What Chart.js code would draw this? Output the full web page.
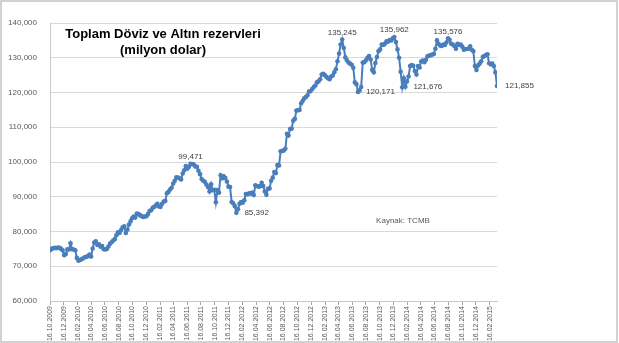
<!DOCTYPE html>
<html>
<head>
<meta charset="utf-8">
<script src="https://cdn.jsdelivr.net/npm/chart.js@4.4.0/dist/chart.umd.min.js"></script>
<style>
  html, body { margin: 0; padding: 0; background: #fff; }
  #wrap { width: 619px; height: 343px; }
</style>
</head>
<body>
<div id="wrap"><canvas id="rezerv" width="619" height="343"></canvas></div>
<script>
// haftalik seri, ilk hafta 16.10.2009 (milyon dolar)
const startDate = '16.10.2009'
const reserves = [
  74600, 75000, 75200, 75300, 75200, 75400, 75300, 75000, 74600, 73200,
  73500, 74900, 74800, 76600, 74900, 74800, 74600, 72400, 71600, 71800,
  72000, 72300, 72600, 72700, 72900, 73400, 72800, 75100, 76800, 77200,
  76100, 76300, 75600, 75800, 74900, 74800, 75000, 75700, 76500, 76900,
  77400, 77800, 78900, 79800, 79600, 80400, 81200, 81500, 79600, 80500,
  82000, 82900, 83800, 84300, 84000, 85200, 85000, 84700, 84400, 84200,
  84300, 84400, 85000, 85900, 86100, 86800, 87100, 87500, 88000, 87200,
  87100, 88000, 88600, 88800, 91000, 91400, 92100, 92600, 93800, 94600,
  95600, 95500, 95300, 95000, 96700, 97600, 98800, 98100, 98600, 99471,
  99400, 99300, 98700, 98600, 97500, 96500, 95100, 94600, 94300, 93500,
  92800, 91500, 93600, 91900, 92000, 88400, 91900, 91200, 96200, 95300,
  95900, 95400, 94400, 92900, 92800, 88500, 88100, 87300, 85392, 86400,
  88000, 88500, 88300, 89000, 90800, 90700, 91000, 90900, 91200, 90500,
  93300, 93100, 92900, 93000, 94000, 93100, 91500, 90600, 92300, 92400,
  94600, 95500, 97100, 96800, 99100, 99000, 103100, 103200, 103300, 103800,
  108100, 107600, 109500, 109600, 111900, 112400, 114800, 114900, 115000, 116900,
  117600, 118300, 118700, 119200, 120300, 120400, 121000, 121600, 122000, 122900,
  123200, 123800, 125200, 125400, 125000, 124500, 124100, 123800, 124600, 124900,
  125800, 126700, 129000, 131200, 133800, 135245, 132800, 130100, 129300, 128600,
  128300, 128000, 127100, 122900, 122400, 120171, 120600, 121600, 128600, 128700,
  129300, 130000, 130500, 129500, 126500, 125800, 128500, 130200, 131900, 132400,
  133800, 133700, 134000, 134700, 134600, 135100, 135000, 135600, 135962, 134500,
  132400, 130000, 126000, 121500, 124100, 121676, 123200, 124600, 127600, 127900,
  127700, 126200, 125200, 127600, 127200, 128900, 129200, 128700, 129400, 130400,
  130600, 130700, 130900, 131100, 132600, 135000, 134000, 133500, 133400, 133800,
  133700, 134400, 135576, 135200, 134000, 133800, 133400, 132600, 134000, 133700,
  133800, 133200, 132300, 132500, 132500, 132600, 133300, 132300, 131900, 127600,
  126500, 127800, 128300, 129000, 130200, 130500, 130800, 131000, 128400, 128100,
  128300, 127600, 125800, 121855
]
// degeri yazilan haftalar
const labelled = [89, 118, 185, 195, 218, 225, 252, 283]

const tickLabels = [
  '16.10.2009', '16.12.2009', '16.02.2010', '16.04.2010', '16.06.2010', '16.08.2010',
  '16.10.2010', '16.12.2010', '16.02.2011', '16.04.2011', '16.06.2011', '16.08.2011',
  '16.10.2011', '16.12.2011', '16.02.2012', '16.04.2012', '16.06.2012', '16.08.2012',
  '16.10.2012', '16.12.2012', '16.02.2013', '16.04.2013', '16.06.2013', '16.08.2013',
  '16.10.2013', '16.12.2013', '16.02.2014', '16.04.2014', '16.06.2014', '16.08.2014',
  '16.10.2014', '16.12.2014', '16.02.2015'
]
const yTicks = [60000, 70000, 80000, 90000, 100000, 110000, 120000, 130000, 140000]

const titleLines = ['Toplam Döviz ve Altın rezervleri', '(milyon dolar)']
const sourceText = 'Kaynak: TCMB'

const FONT = '"Liberation Sans", Arial, sans-serif'

function toUTC(s) {
  const [d, m, y] = s.split('.').map(Number)
  return Date.UTC(y, m - 1, d)
}
const t0 = toUTC(startDate)
const dayOf = s => Math.round((toUTC(s) - t0) / 864e5)
const tickDays = tickLabels.map(dayOf)
const points = reserves.map((v, i) => ({ x: i * 7, y: v }))

// cerceve, baslik, kaynak ve deger etiketleri
const extras = {
  id: 'extras',
  afterDraw(chart) {
    const ctx = chart.ctx
    ctx.save()

    ctx.strokeStyle = '#c4c4c4'
    ctx.lineWidth = 1.5
    ctx.strokeRect(1, 1, 616, 341)

    ctx.fillStyle = '#000'
    ctx.font = 'bold 13px ' + FONT
    ctx.textAlign = 'center'
    ctx.textBaseline = 'middle'
    ctx.fillText(titleLines[0], 163, 34)
    ctx.fillText(titleLines[1], 163, 50)

    ctx.fillStyle = '#595959'
    ctx.font = '8px ' + FONT
    ctx.fillText(sourceText, 403, 221)

    const meta = chart.getDatasetMeta(0)
    const side = { 89: 'top', 185: 'top', 218: 'top', 252: 'top' }
    ctx.fillStyle = '#404040'
    labelled.forEach(i => {
      const p = meta.data[i]
      const txt = reserves[i].toLocaleString('en-US')
      if (side[i] === 'top') {
        ctx.textAlign = 'center'
        ctx.textBaseline = 'bottom'
        ctx.fillText(txt, p.x, p.y - 3)
      } else {
        ctx.textAlign = 'left'
        ctx.textBaseline = 'middle'
        ctx.fillText(txt, p.x + 8, p.y)
      }
    })
    ctx.restore()
  }
}

new Chart(document.getElementById('rezerv'), {
  type: 'line',
  data: {
    datasets: [{
      data: points,
      borderColor: '#4a7ebb',
      backgroundColor: '#4a7ebb',
      borderWidth: 2,
      pointStyle: 'circle',
      pointRadius: 2.3,
      pointBorderWidth: 0,
      pointBackgroundColor: '#4a7ebb',
      tension: 0
    }]
  },
  options: {
    responsive: false,
    animation: false,
    devicePixelRatio: 1,
    layout: { padding: { top: 23, right: 122, bottom: 0, left: 0 } },
    plugins: { legend: { display: false }, tooltip: { enabled: false } },
    scales: {
      x: {
        type: 'linear',
        min: 0,
        max: (reserves.length - 1) * 7,
        afterBuildTicks: s => { s.ticks = tickDays.map(v => ({ value: v })) },
        afterFit: s => { s.height = 42 },
        grid: { drawOnChartArea: false, tickLength: 4, color: '#a6a6a6' },
        border: { color: '#c8c8c8' },
        ticks: {
          autoSkip: false,
          minRotation: 90,
          maxRotation: 90,
          padding: 1,
          color: '#595959',
          font: { size: 7, family: FONT },
          callback: (v, i) => tickLabels[i]
        }
      },
      y: {
        min: yTicks[0],
        max: yTicks[yTicks.length - 1],
        afterBuildTicks: s => { s.ticks = yTicks.map(v => ({ value: v })) },
        afterFit: s => { s.width = 50 },
        grid: { color: '#d9d9d9', drawTicks: false },
        border: { color: '#c8c8c8' },
        ticks: {
          padding: 13,
          color: '#595959',
          font: { size: 8, family: FONT },
          callback: v => v.toLocaleString('en-US')
        }
      }
    }
  },
  plugins: [extras]
})
</script>
</body>
</html>
